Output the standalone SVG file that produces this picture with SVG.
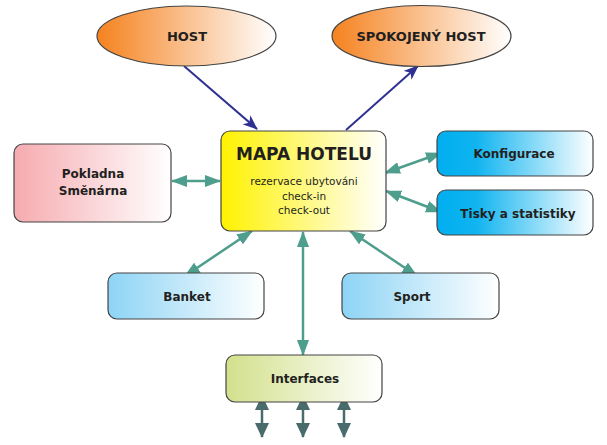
<svg xmlns="http://www.w3.org/2000/svg" width="607" height="445" viewBox="0 0 607 445">
<defs>
<linearGradient id="gOrange" x1="0" y1="0" x2="1" y2="0"><stop offset="0" stop-color="#f5821f"/><stop offset="1" stop-color="#ffffff"/></linearGradient>
<linearGradient id="gYellow" x1="0" y1="0" x2="1" y2="0"><stop offset="0" stop-color="#fff200"/><stop offset="1" stop-color="#ffffff"/></linearGradient>
<linearGradient id="gPink" x1="0" y1="0" x2="1" y2="0"><stop offset="0" stop-color="#f6abb0"/><stop offset="1" stop-color="#ffffff"/></linearGradient>
<linearGradient id="gCyan" x1="0" y1="0" x2="1" y2="0"><stop offset="0" stop-color="#00aeef"/><stop offset="0.25" stop-color="#10b4f0"/><stop offset="1" stop-color="#ffffff"/></linearGradient>
<linearGradient id="gLight" x1="0" y1="0" x2="1" y2="0"><stop offset="0" stop-color="#8dd4f5"/><stop offset="1" stop-color="#ffffff"/></linearGradient>
<linearGradient id="gGreen" x1="0" y1="0" x2="1" y2="0"><stop offset="0" stop-color="#d3e08c"/><stop offset="1" stop-color="#ffffff"/></linearGradient>
<marker id="mBlue" viewBox="0 0 15 12" refX="14" refY="6" markerWidth="15" markerHeight="12" markerUnits="userSpaceOnUse" orient="auto"><path d="M0,0 L15,6 L0,12 L4,6 Z" fill="#2e3192"/></marker>
<marker id="mTeal" viewBox="0 0 16 12" refX="15" refY="6" markerWidth="16" markerHeight="12" markerUnits="userSpaceOnUse" orient="auto-start-reverse"><path d="M0,0 L16,6 L0,12 Z" fill="#4d9e8c"/></marker>
<marker id="mDark" viewBox="0 0 15 14" refX="14" refY="7" markerWidth="15" markerHeight="14" markerUnits="userSpaceOnUse" orient="auto-start-reverse"><path d="M0,0 L15,7 L0,14 Z" fill="#4a6b6b"/></marker>
</defs>
<style>
.box{stroke:#444;stroke-width:1.2}
.lbl{font-family:"DejaVu Sans","Liberation Sans",sans-serif;font-weight:bold;fill:#231f20;text-anchor:middle}
.sub{font-family:"DejaVu Sans","Liberation Sans",sans-serif;fill:#231f20;text-anchor:middle;font-size:10.5px}
.blue{stroke:#2e3192;stroke-width:2;fill:none;marker-end:url(#mBlue)}
.teal{stroke:#4d9e8c;stroke-width:2.5;fill:none;marker-start:url(#mTeal);marker-end:url(#mTeal)}
.dark{stroke:#4a6b6b;stroke-width:2.5;fill:none;marker-start:url(#mDark);marker-end:url(#mDark)}
</style>
<rect width="607" height="445" fill="#ffffff"/>
<g id="connectors">
<line class="blue" x1="184" y1="66" x2="257" y2="129"/>
<line class="blue" x1="346" y1="130" x2="418" y2="66"/>
<line class="teal" x1="172" y1="181" x2="220" y2="181"/>
<line class="teal" x1="385" y1="173" x2="441" y2="153"/>
<line class="teal" x1="386" y1="191" x2="441" y2="212"/>
<line class="teal" x1="252" y1="231" x2="185" y2="276"/>
<line class="teal" x1="350" y1="231" x2="417" y2="276"/>
<line class="teal" x1="303" y1="232" x2="303" y2="355"/>
<line class="dark" x1="262" y1="396" x2="262" y2="437"/>
<line class="dark" x1="303" y1="396" x2="303" y2="437"/>
<line class="dark" x1="344" y1="396" x2="344" y2="437"/>
</g>
<g id="host">
<ellipse class="box" cx="186.5" cy="36" rx="89.5" ry="30" fill="url(#gOrange)"/>
<text class="lbl" x="187" y="41" font-size="13">HOST</text>
</g>
<g id="spokojeny-host">
<ellipse class="box" cx="421.5" cy="36" rx="89.5" ry="30.5" fill="url(#gOrange)"/>
<text class="lbl" x="421" y="41" font-size="13">SPOKOJENÝ HOST</text>
</g>
<g id="mapa-hotelu">
<rect class="box" x="221" y="131" width="165" height="100" rx="9" fill="url(#gYellow)"/>
<text class="lbl" x="304" y="160" font-size="17">MAPA HOTELU</text>
<text class="sub" x="304" y="185">rezervace ubytováni</text>
<text class="sub" x="304" y="200">check-in</text>
<text class="sub" x="304" y="214">check-out</text>
</g>
<g id="pokladna">
<rect class="box" x="14" y="144" width="157" height="78" rx="9" fill="url(#gPink)"/>
<text class="lbl" x="93" y="178" font-size="12">Pokladna</text>
<text class="lbl" x="93" y="195" font-size="12">Směnárna</text>
</g>
<g id="konfigurace">
<rect class="box" x="437" y="131" width="156" height="45" rx="9" fill="url(#gCyan)"/>
<text class="lbl" x="514" y="158" font-size="12">Konfigurace</text>
</g>
<g id="tisky">
<rect class="box" x="437" y="190" width="156" height="45" rx="9" fill="url(#gCyan)"/>
<text class="lbl" x="518" y="218" font-size="12">Tisky a statistiky</text>
</g>
<g id="banket">
<rect class="box" x="108" y="273" width="156" height="46" rx="9" fill="url(#gLight)"/>
<text class="lbl" x="187" y="301" font-size="12">Banket</text>
</g>
<g id="sport">
<rect class="box" x="342" y="273" width="157" height="46" rx="9" fill="url(#gLight)"/>
<text class="lbl" x="412" y="301" font-size="12">Sport</text>
</g>
<g id="interfaces">
<rect class="box" x="226" y="355" width="156" height="47" rx="9" fill="url(#gGreen)"/>
<text class="lbl" x="305" y="383" font-size="12">Interfaces</text>
</g>
</svg>
